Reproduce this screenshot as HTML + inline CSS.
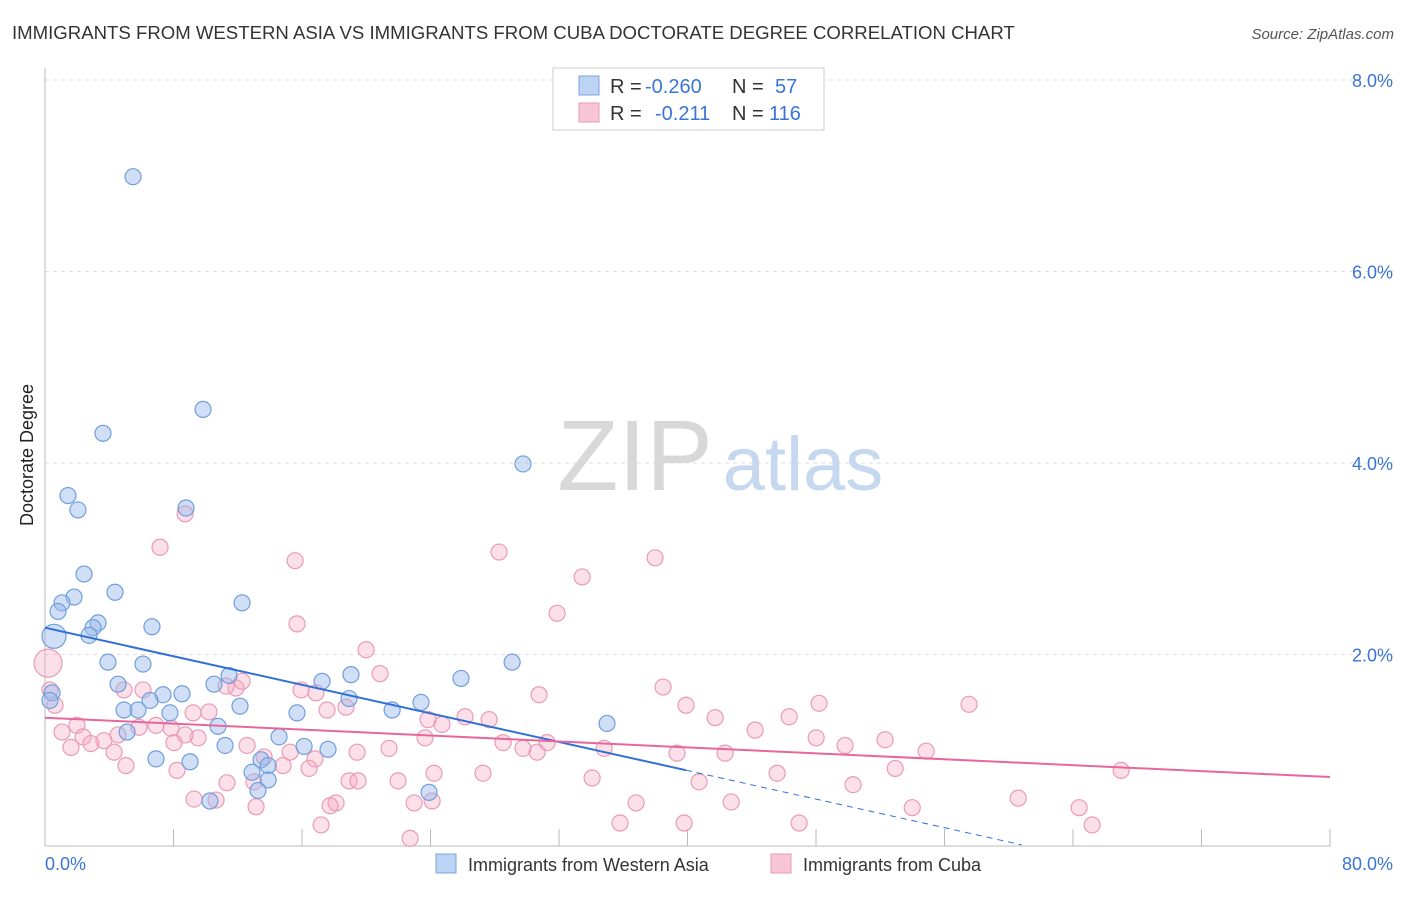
<!DOCTYPE html>
<html><head><meta charset="utf-8"><style>
body{margin:0;background:#fff;font-family:"Liberation Sans",sans-serif}
svg text{font-family:"Liberation Sans",sans-serif}
</style></head><body>
<svg id="chart" width="1406" height="892">
<text x="12" y="39" font-size="18.6" fill="#333">IMMIGRANTS FROM WESTERN ASIA VS IMMIGRANTS FROM CUBA DOCTORATE DEGREE CORRELATION CHART</text>
<text x="1394" y="39" font-size="15" fill="#555" font-style="italic" text-anchor="end">Source: ZipAtlas.com</text>
<g id="grid"></g>
<g>
<text x="635" y="490" font-size="100" font-family="Liberation Serif" fill="#d8d8d8" text-anchor="middle">ZIP</text>
<text x="803" y="490" font-size="76" fill="#c5d8ef" text-anchor="middle">atlas</text>
</g>
<g id="axes"></g>
<text x="-455" y="33" transform="rotate(-90)" font-size="18" fill="#222" text-anchor="middle">Doctorate Degree</text>
<g id="pts"></g>
<g id="trends"></g>
<g>
<rect x="553" y="68" width="271" height="62" fill="#fff" stroke="#ccc"/>
<rect x="579" y="76" width="20" height="19" fill="#bcd3f3" stroke="#7aa6e0"/>
<rect x="579" y="103" width="20" height="19" fill="#f8c5d6" stroke="#eb9ab5"/>
<text x="610" y="93" font-size="20" fill="#333">R =</text>
<text x="645" y="93" font-size="20" fill="#3b74d6">-0.260</text>
<text x="732" y="93" font-size="20" fill="#333">N =</text>
<text x="775" y="93" font-size="20" fill="#3b74d6">57</text>
<text x="610" y="120" font-size="20" fill="#333">R =</text>
<text x="655" y="120" font-size="20" fill="#3b74d6">-0.211</text>
<text x="732" y="120" font-size="20" fill="#333">N =</text>
<text x="769" y="120" font-size="20" fill="#3b74d6">116</text>
</g>
<g>
<rect x="436" y="854" width="20" height="19" fill="#bcd3f3" stroke="#7aa6e0"/>
<text x="468" y="871" font-size="18" fill="#333">Immigrants from Western Asia</text>
<rect x="771" y="854" width="20" height="19" fill="#f8c5d6" stroke="#eb9ab5"/>
<text x="803" y="871" font-size="18" fill="#333">Immigrants from Cuba</text>
</g>
</svg>
<script>
const yTicks=[2,4,6,8];
const yTickLabels=["2.0%","4.0%","6.0%","8.0%"];
const xTickLabels=["0.0%","80.0%"];
const blueX=[5.48,9.84,3.61,1.43,2.05,8.78,29.76,2.43,4.36,1.81,1.06,0.81,3.30,2.99,2.74,6.66,12.27,0.56,3.92,6.10,29.08,4.55,11.46,10.52,8.53,7.35,6.54,17.25,19.05,25.90,0.44,4.92,5.79,7.78,12.14,15.69,18.93,23.41,21.61,34.99,10.77,5.11,14.57,11.21,16.13,17.62,6.91,9.03,13.45,13.89,12.89,13.89,13.26,10.27,23.91,0.31];
const blueY=[6.99,4.56,4.31,3.66,3.51,3.53,3.99,2.84,2.65,2.60,2.54,2.45,2.33,2.28,2.20,2.29,2.54,2.19,1.92,1.90,1.92,1.69,1.78,1.69,1.59,1.58,1.52,1.72,1.79,1.75,1.60,1.42,1.42,1.39,1.46,1.39,1.54,1.50,1.42,1.28,1.25,1.19,1.14,1.05,1.04,1.01,0.91,0.88,0.90,0.84,0.77,0.69,0.58,0.47,0.56,1.52];
const pinkX=[8.72,7.16,15.57,28.27,37.98,33.44,31.88,15.69,19.99,0.19,20.86,38.48,30.76,39.91,48.19,57.53,15.94,16.87,18.74,17.56,11.89,11.27,12.27,4.92,6.10,10.21,9.22,6.91,1.99,1.06,2.37,3.67,1.62,2.86,4.30,5.04,4.55,5.85,7.85,8.03,9.53,12.58,13.64,15.26,16.81,19.43,21.42,23.85,24.72,26.15,27.65,23.66,28.52,29.76,30.64,31.26,34.81,39.35,41.72,44.21,42.34,46.33,48.01,49.81,52.30,54.86,8.22,9.28,11.33,13.01,14.82,16.44,18.93,19.49,21.98,24.22,27.27,34.06,40.72,45.58,52.93,67.00,50.31,18.12,10.65,13.14,17.75,22.98,24.10,36.80,42.72,60.59,64.38,53.99,17.19,22.73,35.80,39.79,46.95,65.19,0.31,0.62,8.72];
const pinkY=[3.47,3.12,2.98,3.07,3.01,2.81,2.43,2.32,2.05,1.91,1.80,1.66,1.58,1.47,1.49,1.48,1.63,1.60,1.45,1.42,1.65,1.67,1.72,1.63,1.63,1.40,1.39,1.26,1.26,1.19,1.14,1.10,1.03,1.07,0.98,0.84,1.16,1.24,1.23,1.08,1.13,1.05,0.93,0.98,0.91,0.98,1.02,1.32,1.27,1.35,1.32,1.13,1.08,1.02,0.98,1.08,1.02,0.97,1.34,1.21,0.97,1.35,1.13,1.05,1.11,0.99,0.79,0.49,0.66,0.67,0.84,0.81,0.68,0.68,0.68,0.76,0.76,0.71,0.67,0.76,0.81,0.79,0.64,0.45,0.48,0.41,0.42,0.45,0.47,0.45,0.46,0.50,0.40,0.40,0.22,0.08,0.24,0.24,0.24,0.22,1.63,1.47,1.16];
const blueBig=[17];
const pinkBig=[9];
const blueTrend=[2.28,-0.0373];
const pinkTrend=[1.34,-0.00775];
const NS="http://www.w3.org/2000/svg";
const X0=45,X1=1330,Y0=846,PXY=95.75;
function sx(v){return X0+v/80*(X1-X0);}
function sy(v){return Y0-v*PXY;}
function mk(tag,attrs,parent){const e=document.createElementNS(NS,tag);for(const k in attrs)e.setAttribute(k,attrs[k]);parent.appendChild(e);return e;}
const grid=document.getElementById('grid'),axes=document.getElementById('axes');
yTicks.forEach((t,i)=>{
 const l=mk('line',{x1:X0,x2:1394,y1:sy(t),y2:sy(t),stroke:'#ddd','stroke-dasharray':'4,4'},grid);
 
 
 const tx=mk('text',{x:1393,y:sy(t)+7,'font-size':18,fill:'#3b74d6','text-anchor':'end'},axes);
 tx.textContent=yTickLabels[i];
 
 
});
mk('line',{x1:X0,x2:X0,y1:68,y2:Y0,stroke:'#bbb'},axes);
mk('line',{x1:X0,x2:X1,y1:Y0,y2:Y0,stroke:'#bbb'},axes);
for(let i=0;i<=10;i++){mk('line',{x1:sx(i*8),x2:sx(i*8),y1:829,y2:Y0,stroke:'#bbb'},axes);}
const xl0=mk('text',{x:45,y:870,'font-size':18,fill:'#3b74d6'},axes);xl0.textContent=xTickLabels[0];


const xl1=mk('text',{x:1393,y:870,'font-size':18,fill:'#3b74d6','text-anchor':'end'},axes);xl1.textContent=xTickLabels[1];


const pts=document.getElementById('pts');
pinkX.forEach((x,i)=>{
 const c=mk('circle',{cx:sx(x),cy:sy(pinkY[i]),r:pinkBig.includes(i)?14:8,fill:'rgba(245,165,192,0.35)',stroke:'#eb9ab5','stroke-width':1.2},pts);
 
 
});
blueX.forEach((x,i)=>{
 const c=mk('circle',{cx:sx(x),cy:sy(blueY[i]),r:blueBig.includes(i)?12:8,fill:'rgba(150,185,235,0.45)',stroke:'#6f9edd','stroke-width':1.2},pts);
 
 
});
const tr=document.getElementById('trends');
const bl=mk('line',{x1:sx(0),y1:sy(blueTrend[0]),x2:sx(39.9),y2:sy(blueTrend[0]+blueTrend[1]*39.9),stroke:'#2f6fd6','stroke-width':2},tr);


const bd=mk('line',{x1:sx(39.9),y1:sy(blueTrend[0]+blueTrend[1]*39.9),x2:sx(60.8),y2:sy(blueTrend[0]+blueTrend[1]*60.8),stroke:'#2f6fd6','stroke-width':1,'stroke-dasharray':'6,5'},tr);


const pl=mk('line',{x1:sx(0),y1:sy(pinkTrend[0]),x2:sx(80),y2:sy(pinkTrend[0]+pinkTrend[1]*80),stroke:'#e8679a','stroke-width':2},tr);


</script>
</body></html>
